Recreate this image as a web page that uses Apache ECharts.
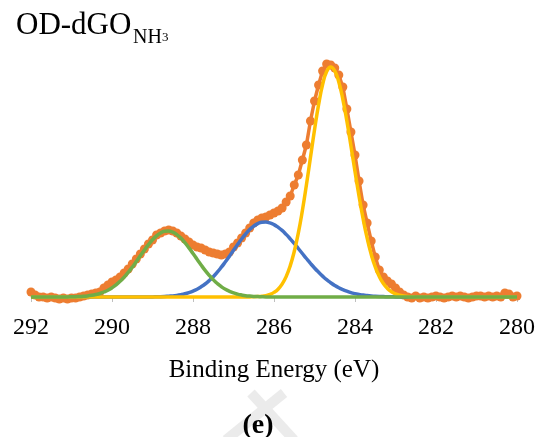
<!DOCTYPE html>
<html>
<head>
<meta charset="utf-8">
<script src="https://cdn.jsdelivr.net/npm/echarts@6/dist/echarts.min.js"></script>
<style>
  html, body { margin: 0; padding: 0; background: #ffffff; }
  #chart { width: 538px; height: 437px; }
</style>
</head>
<body>
<div id="chart"></div>
<script>
// C 1s XPS spectrum of OD-dGO(NH3): binding energies (eV), 0.1 eV steps
const energies = [
  292.0, 291.9, 291.8, 291.7, 291.6, 291.5, 291.4, 291.3, 291.2, 291.1,
  291.0, 290.9, 290.8, 290.7, 290.6, 290.5, 290.4, 290.3, 290.2, 290.1,
  290.0, 289.9, 289.8, 289.7, 289.6, 289.5, 289.4, 289.3, 289.2, 289.1,
  289.0, 288.9, 288.8, 288.7, 288.6, 288.5, 288.4, 288.3, 288.2, 288.1,
  288.0, 287.9, 287.8, 287.7, 287.6, 287.5, 287.4, 287.3, 287.2, 287.1,
  287.0, 286.9, 286.8, 286.7, 286.6, 286.5, 286.4, 286.3, 286.2, 286.1,
  286.0, 285.9, 285.8, 285.7, 285.6, 285.5, 285.4, 285.3, 285.2, 285.1,
  285.0, 284.9, 284.8, 284.7, 284.6, 284.5, 284.4, 284.3, 284.2, 284.1,
  284.0, 283.9, 283.8, 283.7, 283.6, 283.5, 283.4, 283.3, 283.2, 283.1,
  283.0, 282.9, 282.8, 282.7, 282.6, 282.5, 282.4, 282.3, 282.2, 282.1,
  282.0, 281.9, 281.8, 281.7, 281.6, 281.5, 281.4, 281.3, 281.2, 281.1,
  281.0, 280.9, 280.8, 280.7, 280.6, 280.5, 280.4, 280.3, 280.2, 280.1,
  280.0
];

// Measured intensity (a.u., background subtracted)
const intensity = [
  5, 2, 0, 0, -1, 0, -1, -2, -1, -2,
  -1, -1, 0, 1, 2, 3, 4, 5, 9, 12,
  15, 17, 20, 24, 28, 33, 38, 43, 48, 53,
  57, 62, 64, 66, 67, 66, 64, 61, 58, 55,
  52, 50, 49, 47, 45, 44, 43, 42, 43, 45,
  50, 54, 59, 64, 69, 74, 77, 79, 80, 82,
  84, 86, 89, 95, 101, 112, 122, 137, 152, 176,
  196, 212, 226, 233, 232, 229, 222, 210, 188, 165,
  142, 116, 92, 74, 56, 40, 27, 20, 16, 13,
  9, 5, 2, 0, -1, 1, -1, 0, -1, 0,
  1, 0, -1, 0, 1, 0, 1, 0, -1, 0,
  1, 1, 0, 1, 0, 1, 0, 4, 3, 0,
  1
];

// Fitted component: C-C / C=C (~284.6 eV)
const peakCC = [
  0, 0, 0, 0, 0, 0, 0, 0, 0, 0,
  0, 0, 0, 0, 0, 0, 0, 0, 0, 0,
  0, 0, 0, 0, 0, 0, 0, 0, 0, 0,
  0, 0, 0, 0, 0, 0, 0, 0, 0, 0,
  0, 0, 0, 0, 0, 0, 0, 0, 0, 0,
  0, 0, 0, 0, 0.1, 0.2, 0.4, 0.7, 1.4, 2.6,
  4.6, 7.8, 12.9, 20.4, 31.1, 45.5, 63.9, 86.3, 112.0, 139.5,
  167.0, 192.1, 212.3, 225.4, 230.0, 226.2, 215.0, 197.7, 175.7, 151.0,
  125.5, 100.8, 78.3, 58.8, 42.7, 30.0, 20.4, 13.4, 8.5, 5.2,
  3.1, 1.8, 1.0, 0.5, 0.3, 0.1, 0.1, 0, 0, 0,
  0, 0, 0, 0, 0, 0, 0, 0, 0, 0,
  0, 0, 0, 0, 0, 0, 0, 0, 0, 0,
  0
];

// Fitted component: C-O / C-N (~286.2 eV)
const peakCO = [
  0, 0, 0, 0, 0, 0, 0, 0, 0, 0,
  0, 0, 0, 0, 0, 0, 0, 0, 0, 0,
  0, 0, 0, 0, 0, 0, 0, 0, 0.1, 0.1,
  0.1, 0.2, 0.3, 0.5, 0.8, 1.1, 1.6, 2.3, 3.2, 4.4,
  5.9, 7.8, 10.2, 13.0, 16.4, 20.3, 24.8, 29.8, 35.2, 40.8,
  46.7, 52.4, 58.0, 63.0, 67.4, 70.9, 73.4, 74.8, 74.9, 74.1,
  72.4, 69.8, 66.6, 62.6, 58.2, 53.5, 48.5, 43.5, 38.5, 33.6,
  29.0, 24.8, 20.9, 17.3, 14.3, 11.6, 9.3, 7.4, 5.8, 4.4,
  3.4, 2.6, 1.9, 1.4, 1.0, 0.7, 0.5, 0.4, 0.3, 0.2,
  0.1, 0.1, 0.1, 0, 0, 0, 0, 0, 0, 0,
  0, 0, 0, 0, 0, 0, 0, 0, 0, 0,
  0, 0, 0, 0, 0, 0, 0, 0, 0, 0,
  0
];

// Fitted component: O-C=O (~288.6 eV)
const peakOCO = [
  0, 0, 0, 0, 0, 0, 0, 0, 0.1, 0.1,
  0.2, 0.3, 0.5, 0.7, 1.1, 1.7, 2.5, 3.5, 5.0, 6.8,
  9.2, 12.1, 15.7, 19.8, 24.6, 29.8, 35.4, 41.2, 46.9, 52.3,
  57.2, 61.1, 64.0, 65.7, 65.9, 64.8, 62.4, 58.9, 54.3, 49.1,
  43.5, 37.7, 32.0, 26.6, 21.7, 17.3, 13.5, 10.3, 7.7, 5.7,
  4.1, 2.9, 2.0, 1.3, 0.9, 0.6, 0.4, 0.2, 0.1, 0.1,
  0, 0, 0, 0, 0, 0, 0, 0, 0, 0,
  0, 0, 0, 0, 0, 0, 0, 0, 0, 0,
  0, 0, 0, 0, 0, 0, 0, 0, 0, 0,
  0, 0, 0, 0, 0, 0, 0, 0, 0, 0,
  0, 0, 0, 0, 0, 0, 0, 0, 0, 0,
  0, 0, 0, 0, 0, 0, 0, 0, 0, 0,
  0
];

// Energy-axis tick labels
const tickLabels = [292, 290, 288, 286, 284, 282, 280];

const pairs = arr => energies.map((e, i) => [e, arr[i]]);
const serif = "'Liberation Serif', 'Times New Roman', serif";

const chart = echarts.init(document.getElementById('chart'), null, { renderer: 'canvas' });

const fitLine = (color, z) => ({
  type: 'line',
  smooth: true,
  symbol: 'none',
  showSymbol: false,
  clip: false,
  z: z,
  lineStyle: { color: color, width: 3.5 }
});

chart.setOption({
  animation: false,
  backgroundColor: '#ffffff',
  textStyle: { fontFamily: serif, color: '#000000' },
  grid: { left: 31, right: 21, top: 57, bottom: 140, containLabel: false, outerBoundsMode: 'none' },
  xAxis: {
    type: 'value',
    inverse: true,
    min: Math.min(...tickLabels),
    max: Math.max(...tickLabels),
    interval: tickLabels[0] - tickLabels[1],
    axisLine: { show: true, onZero: false, lineStyle: { color: '#d9d9d9', width: 1 } },
    axisTick: { show: true, length: 5, lineStyle: { color: '#bfbfbf', width: 1 } },
    axisLabel: {
      show: true, margin: 19,
      showMinLabel: true, showMaxLabel: true,
      formatter: v => '{t|' + v + '}',
      rich: { t: { fontFamily: serif, fontSize: 24, color: '#000000' } }
    },
    splitLine: { show: false },
    name: 'Binding Energy (eV)',
    nameLocation: 'middle',
    nameGap: 61,
    nameTextStyle: { color: '#000000', fontFamily: serif, fontSize: 25 }
  },
  yAxis: { type: 'value', min: 0, max: 240, show: false, splitLine: { show: false } },
  series: [
    {
      type: 'line',
      data: pairs(intensity),
      symbol: 'circle',
      symbolSize: 9,
      showSymbol: true,
      clip: false,
      z: 2,
      itemStyle: { color: '#ED7D31' },
      lineStyle: { color: '#ED7D31', width: 3.5 }
    },
    Object.assign(fitLine('#4472C4', 3), { data: pairs(peakCO) }),
    Object.assign(fitLine('#FFC000', 4), { data: pairs(peakCC) }),
    Object.assign(fitLine('#70AD47', 5), { data: pairs(peakOCO) })
  ],
  graphic: [
    {
      type: 'line', silent: true, z: 0,
      shape: { x1: 251, y1: 393, x2: 294, y2: 440 },
      style: { stroke: '#ebebeb', lineWidth: 10 }
    },
    {
      type: 'line', silent: true, z: 0,
      shape: { x1: 284, y1: 393, x2: 226, y2: 440 },
      style: { stroke: '#ebebeb', lineWidth: 10 }
    },
    {
      type: 'text', x: 16, y: 25.5, z: 10,
      style: { text: 'OD-dGO', fontFamily: serif, fontSize: 31, fill: '#000000', align: 'left', verticalAlign: 'middle' }
    },
    {
      type: 'text', x: 133, y: 37.5, z: 10,
      style: { text: 'NH', fontFamily: serif, fontSize: 20, fill: '#000000', align: 'left', verticalAlign: 'middle' }
    },
    {
      type: 'text', x: 162, y: 37.5, z: 10,
      style: { text: '3', fontFamily: serif, fontSize: 13, fill: '#000000', align: 'left', verticalAlign: 'middle' }
    },
    {
      type: 'text', x: 258, y: 426, z: 10,
      style: { text: '(e)', fontFamily: serif, fontSize: 28, fontWeight: 'bold', fill: '#000000', align: 'center', verticalAlign: 'middle' }
    }
  ]
});
</script>
</body>
</html>
